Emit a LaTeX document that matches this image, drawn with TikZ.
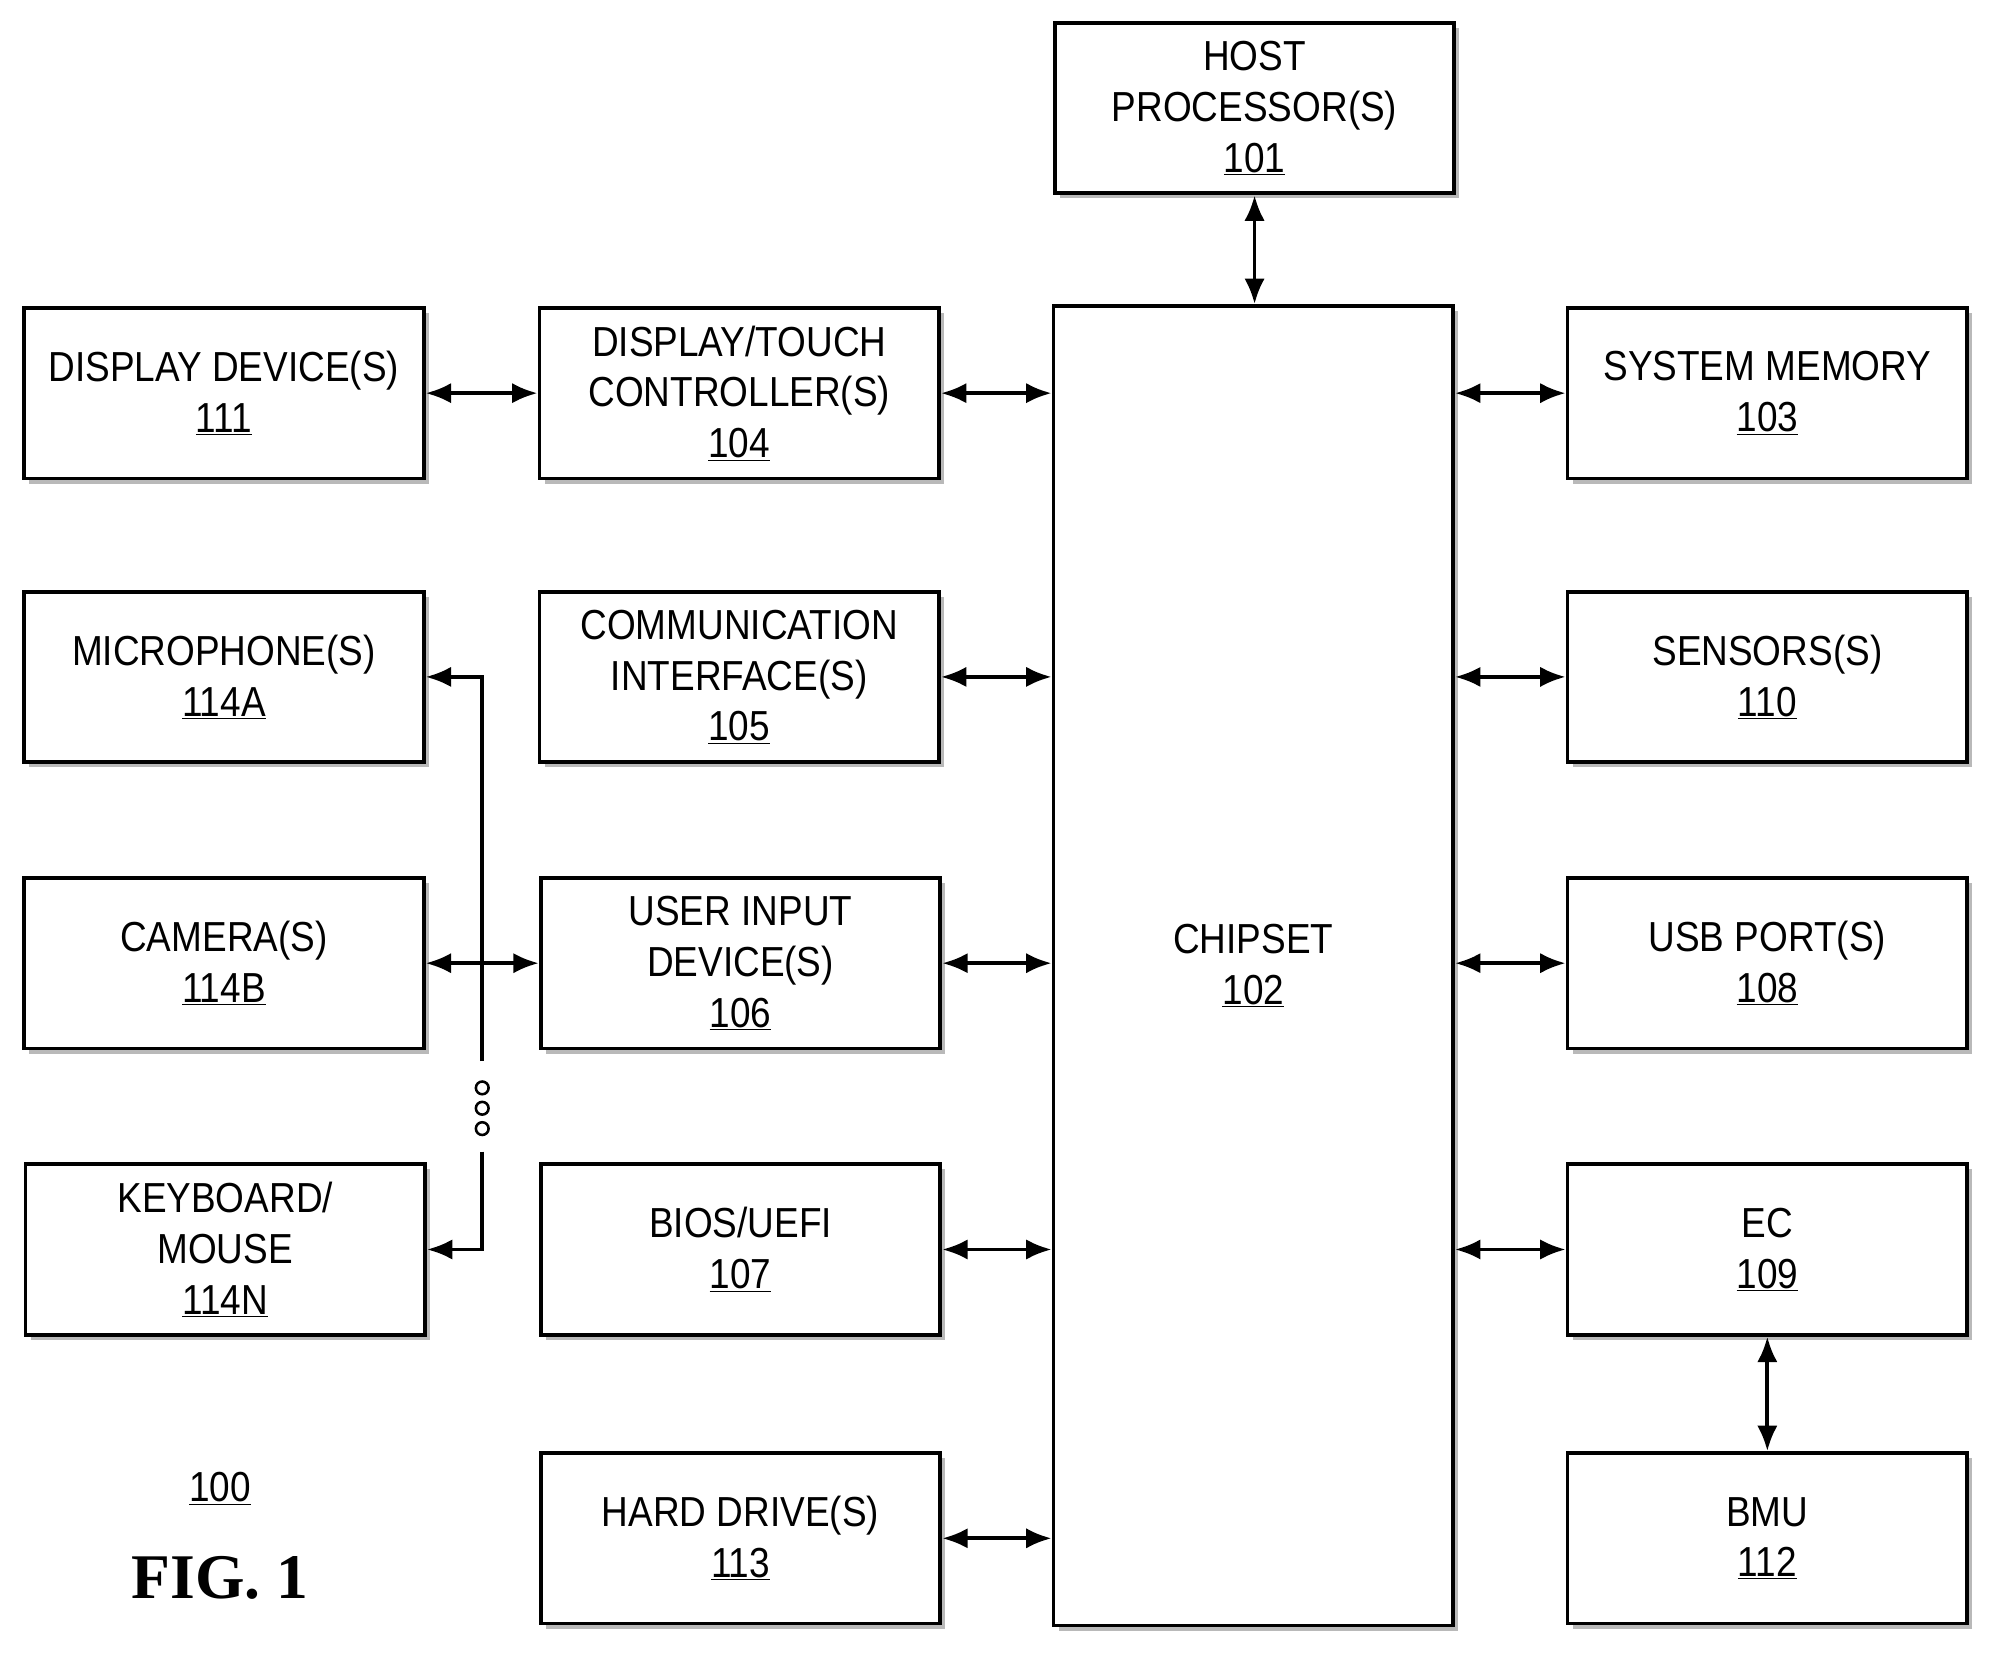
\documentclass[tikz,border=0pt]{standalone}
\usepackage{fontspec}
\setmainfont{Liberation Sans}[FakeStretch=0.88]
\newfontfamily\figfont{Liberation Serif}
\usetikzlibrary{arrows.meta,shadows}
\begin{document}
\begin{tikzpicture}[x=1pt,y=-1pt,
  box/.style={draw,line width=3pt,fill=white,align=center,font=\fontsize{33}{40}\selectfont,
    drop shadow={shadow xshift=4pt,shadow yshift=-4pt,fill=gray!55,opacity=1},
    minimum width=314pt,minimum height=134pt,inner sep=0pt},
  ar/.style={line width=3pt,{Latex[length=20pt,width=16pt]}-{Latex[length=20pt,width=16pt]}},
  ln/.style={line width=3pt}]
\useasboundingbox (0,0) rectangle (1564,1300);
\newcommand{\ul}[1]{\underline{#1}}
\node[box] (host) at (986,85) {HOST\\PROCESSOR(S)\\\ul{101}};
\node[box,minimum width=314pt,minimum height=1037pt] (chip) at (985,759) {CHIPSET\\\ul{102}};
% left column
\node[box] (disp) at (176,309) {DISPLAY DEVICE(S)\\\ul{111}};
\node[box] (mic) at (176,532) {MICROPHONE(S)\\\ul{114A}};
\node[box] (cam) at (176,757) {CAMERA(S)\\\ul{114B}};
\node[box] (kbd) at (177,982) {KEYBOARD/\\MOUSE\\\ul{114N}};
% middle
\node[box] (dtc) at (581,309) {DISPLAY/TOUCH\\CONTROLLER(S)\\\ul{104}};
\node[box] (comm) at (581,532) {COMMUNICATION\\INTERFACE(S)\\\ul{105}};
\node[box] (uid) at (582,757) {USER INPUT\\DEVICE(S)\\\ul{106}};
\node[box] (bios) at (582,982) {BIOS/UEFI\\\ul{107}};
\node[box] (hdd) at (582,1209) {HARD DRIVE(S)\\\ul{113}};
% right
\node[box] (mem) at (1389,309) {SYSTEM MEMORY\\\ul{103}};
\node[box] (sens) at (1389,532) {SENSORS(S)\\\ul{110}};
\node[box] (usb) at (1389,757) {USB PORT(S)\\\ul{108}};
\node[box] (ec) at (1389,982) {EC\\\ul{109}};
\node[box] (bmu) at (1389,1209) {BMU\\\ul{112}};
% arrows
\draw[ar] (host) -- (host|-chip.north);
\draw[ar] (disp) -- (dtc);
\foreach \n in {dtc,comm,uid,bios,hdd}{\draw[ar] (\n.east) -- (\n.east-|chip.west);}
\foreach \n in {mem,sens,usb,ec}{\draw[ar] (\n.west) -- (\n.west-|chip.east);}
\draw[ar] (ec) -- (bmu);
\draw[ar] (cam) -- (uid);
\coordinate (t1) at (379,834);
\coordinate (t2) at (379,905);
\draw[ln,-{Latex[length=20pt,width=16pt]}] (t1) -- (379,532) -- (mic.east);
\draw[ln,-{Latex[length=20pt,width=16pt]}] (t2) -- (379,982) -- (kbd.east);
\foreach \yy in {855,871,887}{\draw[line width=2pt] (379,\yy) circle (5pt);}
\node[font=\fontsize{33}{40}\selectfont] (n100) at (173,1170) {\ul{100}};
\node[font=\figfont\bfseries\fontsize{50}{56}\selectfont] (fig) at (173,1240) {FIG. 1};
\end{tikzpicture}
\end{document}
